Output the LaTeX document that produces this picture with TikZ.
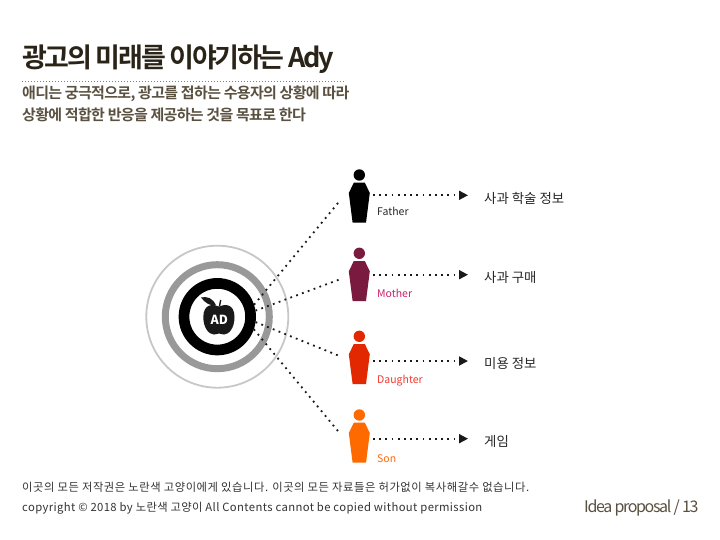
\documentclass[tikz,border=0pt]{standalone}
\usepackage{fontspec}
\setmainfont{Noto Sans CJK KR}
\newfontfamily\headfont[LetterSpace=-8.5,BoldFont={Noto Sans CJK KR Bold}]{Noto Sans CJK KR}
\newfontfamily\subfont[LetterSpace=-4.5,BoldFont={Noto Sans CJK KR Bold}]{Noto Sans CJK KR}
\newfontfamily\notefont[LetterSpace=5]{Noto Sans CJK KR}
\newfontfamily\copyfont[LetterSpace=3.3]{Noto Sans CJK KR}
\usetikzlibrary{arrows.meta, positioning, calc}
\definecolor{titleink}{HTML}{2A2318}
\definecolor{subink}{HTML}{5A5040}
\definecolor{fmother}{HTML}{7A1A3F}
\definecolor{lmother}{HTML}{C8226A}
\definecolor{fdaughter}{HTML}{E22800}
\definecolor{ldaughter}{HTML}{F03A30}
\definecolor{fson}{HTML}{FF6A00}
\definecolor{lson}{HTML}{FF6A10}

\begin{document}
\begin{tikzpicture}[
    x=1pt, y=-1pt,
    >={Triangle[length=9pt,width=9pt]},
    ring/.style={circle, draw, inner sep=0pt}, % rings of the target
    dotline/.style={line width=1.8pt, dash pattern=on 1.8pt off 4.4pt, black!90}, % dotted links
    persondot/.style={inner sep=0pt, minimum width=40pt, minimum height=40pt}, % box round a figure
    textnode/.style={inner sep=0pt, anchor=base west},
    info/.style={inner ysep=0pt, inner xsep=16pt, anchor=west, font=\fontsize{13.4}{15}\selectfont,
        text=black!85, text height=17.5pt, text depth=2pt}
]
    \useasboundingbox (0,0) rectangle (720,540);

    % 1. heading
    \node[textnode, font=\headfont\bfseries\fontsize{27}{30}\selectfont, text=titleink] (title) at (22,68) {광고의 미래를 이야기하는 Ady};
    \coordinate (ruleleft) at (22,81.5);
    \coordinate (ruleright) at (344,81.5);
    \draw[black!50, line width=0.7pt, dash pattern=on 1pt off 2pt] (ruleleft) -- (ruleright);
    \node[textnode, font=\subfont\bfseries\fontsize{15}{17}\selectfont, text=subink] (subone) at (22,98.5) {애디는 궁극적으로, 광고를 접하는 수용자의 상황에 따라};
    \node[textnode, font=\subfont\bfseries\fontsize{15}{17}\selectfont, text=subink] (subtwo) at (22,120.5) {상황에 적합한 반응을 제공하는 것을 목표로 한다};

    % 2. target and apple
    \node[ring, draw=black!22, line width=1.8pt, minimum size=142pt] (outerring) at (217.3,316.7) {};
    \node[ring, draw=black!40, line width=7pt, minimum size=104pt] (midring) at (217.3,316.7) {};
    \node[ring, draw=black, line width=10.7pt, minimum size=66.6pt] (core) at (217.3,316.7) {};
    \fill[black!90] (219,306.5) .. controls (225,303.5) and (234.5,304) .. (234.5,317)
        .. controls (234.5,328) and (229,334.5) .. (224,334.5)
        .. controls (221.5,334.5) and (220.5,333.5) .. (219,333.5)
        .. controls (217.5,333.5) and (216.5,334.5) .. (214,334.5)
        .. controls (209,334.5) and (203.3,328) .. (203.3,317)
        .. controls (203.3,304) and (213,303.5) .. (219,306.5) -- cycle;
    \fill[black!90] (201,297.5) .. controls (207,296) and (213,298) .. (216,305.5)
        .. controls (210,306) and (205,303) .. (201,297.5) -- cycle;
    \draw[black!90, line width=1.4pt] (219.5,306) -- (220.7,300);
    \node[inner sep=0pt, text=white, font=\bfseries\fontsize{12.5}{14}\selectfont] (adlabel) at (219.3,319.5) {AD};

    % 3. figures, labels, answers
    \foreach \name/\bodyy/\arrowy/\laby/\figcol/\labcol/\lab/\answer in {
        father/202.7/195.3/215/black/black!85/Father/사과 학술 정보,
        mother/281/274.7/297/fmother/lmother/Mother/사과 구매,
        daughter/364/361/383/fdaughter/ldaughter/Daughter/미용 정보,
        son/442.7/438.7/462/fson/lson/Son/게임} {
        \node[persondot] (\name) at (359.3,\bodyy) {};
        \fill[\figcol] (359.3,\bodyy-27.7) circle (5.7);
        \fill[\figcol] (353.8,\bodyy-20) -- (364.8,\bodyy-20) -- (369.8,\bodyy-9.7)
            -- (366,\bodyy+20) -- (352.6,\bodyy+20) -- (348.8,\bodyy-9.7) -- cycle;
        \node[textnode, text=\labcol, font=\fontsize{10.5}{12}\selectfont] (\name-label) at (377,\laby) {\lab};
        \coordinate (\name-out) at (373,\arrowy);
        \node[info] (\name-info) at (468,\arrowy) {\answer};
        \draw[dotline, ->] (\name-out) -- (\name-info.west);
    }

    % 4. links from target to figures
    \draw[dotline] (core.18) -- (father.177);
    \draw[dotline] (core.9) -- (mother.176);
    \draw[dotline] (core.-8) -- (daughter.158);
    \draw[dotline] (core.-19) -- (son.153);

    % 5. footer
    \node[textnode, font=\notefont\fontsize{11.3}{13}\selectfont, text=black!80] (noticeone) at (22,491.5) {이곳의 모든 저작권은 노란색 고양이에게 있습니다. 이곳의 모든 자료들은 허가없이 복사해갈수 없습니다.};
    \node[textnode, font=\copyfont\fontsize{11.3}{13}\selectfont, text=black!80] (noticetwo) at (22,511) {copyright © 2018 by 노란색 고양이 All Contents cannot be copied without permission};
    \node[textnode, font=\headfont\fontsize{16}{18}\selectfont, text=subink] (pagemark) at (584,512) {Idea proposal / 13};
\end{tikzpicture}
\end{document}
